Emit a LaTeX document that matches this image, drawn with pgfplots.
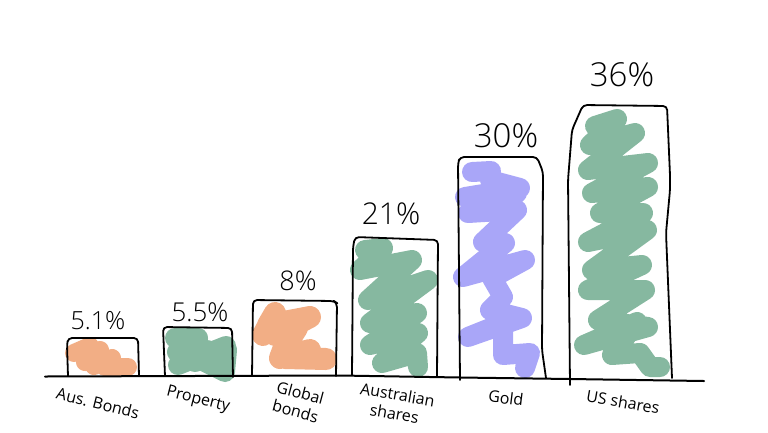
\documentclass[border=0pt]{standalone}
\usepackage{pgfplots}
\pgfplotsset{compat=1.18}
\usepackage{fontspec}
\setmainfont{Open Sans}
\newfontfamily\hand{Open Sans Light}
\definecolor{sgreen}{HTML}{86B8A0}
\definecolor{sorange}{HTML}{F2AE85}
\definecolor{spurple}{HTML}{A9A6F8}
\tikzset{
  scribble/.style={sharp plot, line width=20pt, line join=round, line cap=round},
  outline/.style={black, line width=1.8pt, line join=round, line cap=round, rounded corners=4pt},
  pct/.style={inner sep=0pt, anchor=center},
  lab/.style={font=\fontsize{16}{19}\selectfont, inner sep=0pt, align=center, anchor=center},
}
\begin{document}
\begin{tikzpicture}
\begin{axis}[
  scale only axis, width=768pt, height=432pt,
  xmin=0, xmax=768, ymin=0, ymax=432,
  y dir=reverse, hide axis, clip=false, no markers,
]
% keeps the whole canvas in the page
\path (axis cs:0,0) rectangle (axis cs:768,432);
% scribbled fills
\addplot[scribble, sorange, line width=18pt] coordinates {(74,353)(90,346)(85,362)(100,350)(94,366)(112,358)(105,367)(128,367)};
\addplot[scribble, sgreen] coordinates {(175,338)(198,338)(177,352)(207,350)(178,365)(226,346)(195,362)(227,350)(225,372)(205,362)};
\addplot[scribble, sorange, line width=22pt] coordinates {(263,335)(275,313)(268,325)(310,317)(275,335)(297,328)(283,350)(280,358)(310,350)(285,358)(326,359)};
\addplot[scribble, sgreen] coordinates {(365,250)(383,248)(360,270)(412,260)(368,300)(428,280)(370,323)(417,313)(370,345)(418,333)(382,363)(417,353)(418,367)};
\addplot[scribble, spurple] coordinates {(472,172)(491,171)(490,180)(520,188)(465,197)(517,193)(468,213)(517,210)(483,242)(505,243)(463,277)(525,260)(492,278)(503,297)(490,310)(522,318)(468,337)(503,323)(503,355)(530,353)(525,368)};
\addplot[scribble, sgreen] coordinates {(595,126)(617,119)(590,145)(635,133)(588,170)(648,163)(592,193)(648,187)(600,213)(643,213)(588,242)(647,230)(592,270)(642,265)(588,290)(645,290)(598,320)(648,327)(584,345)(637,322)(612,355)(640,353)(650,367)(660,367)};
% bar outlines
\addplot[outline] coordinates {(68,376)(67,345)(68,338)(138,338)(139,376)};
\addplot[outline] coordinates {(165,376)(163,327)(232,328)(233,377)};
\addplot[outline] coordinates {(252,376)(253,300)(334,301)(337,303)(336,376)};
\addplot[outline] coordinates {(352,375)(353,247)(355,237)(438,240)(437,376)};
\addplot[outline] coordinates {(460,380)(458,163)(460,157)(537,157)(543,172)(542,350)(546,378)};
\addplot[outline] coordinates {(570,385)(568,180)(572,130)(583,105)(667,106)(670,175)(670,190)(666,233)(672,378)};
% baseline
\addplot[outline, line width=2pt] coordinates {(45,376.5)(340,375.5)(460,377.5)(570,379)(704,381)};
% values
\node[pct, font=\hand\fontsize{25}{25}\selectfont] at (axis cs:98,321) {5.1\%};
\node[pct, font=\hand\fontsize{26}{26}\selectfont] at (axis cs:200,312) {5.5\%};
\node[pct, font=\hand\fontsize{27}{27}\selectfont] at (axis cs:298,281) {8\%};
\node[pct, font=\hand\fontsize{30}{30}\selectfont] at (axis cs:391,214) {21\%};
\node[pct, font=\hand\fontsize{33}{33}\selectfont] at (axis cs:506,136) {30\%};
\node[pct, font=\hand\fontsize{33}{33}\selectfont] at (axis cs:622,75) {36\%};
% category labels
\node[lab, rotate=-14] at (axis cs:98,403) {Aus. Bonds};
\node[lab, rotate=-14] at (axis cs:198,400) {Property};
\node[lab, rotate=-15] at (axis cs:298,402) {Global\\bonds};
\node[lab, rotate=-10] at (axis cs:396,404) {Australian\\shares};
\node[lab, rotate=-7] at (axis cs:506,398) {Gold};
\node[lab, rotate=-10] at (axis cs:623,402) {US shares};
\end{axis}
\end{tikzpicture}
\end{document}
